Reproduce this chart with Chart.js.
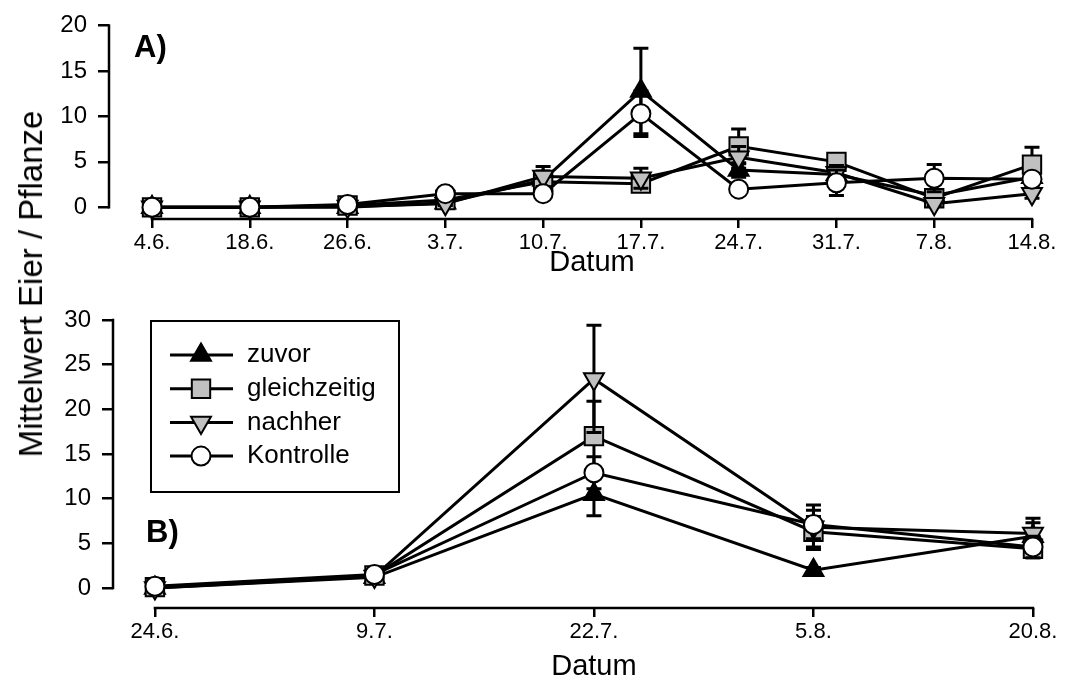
<!DOCTYPE html>
<html>
<head>
<meta charset="utf-8">
<title>Mittelwert Eier / Pflanze</title>
<script src="https://cdn.jsdelivr.net/npm/chart.js@4.4.1/dist/chart.umd.min.js"></script>
<style>
  html, body { margin: 0; padding: 0; background: #fff; }
  #wrap { position: relative; width: 1065px; height: 690px; overflow: hidden; }
  #cA { position: absolute; left: 0; top: 0; }
  #cB { position: absolute; left: 0; top: 290px; }
  #ytitle {
    position: absolute; left: 31px; top: 284px;
    transform: translate(-50%, -50%) rotate(-90deg);
    font: 33px "Liberation Sans", Arial, sans-serif;
    white-space: nowrap; color: #000;
  }
</style>
</head>
<body>
<div id="wrap">
  <canvas id="cA" width="1065" height="290"></canvas>
  <canvas id="cB" width="1065" height="400"></canvas>
  <div id="ytitle">Mittelwert Eier / Pflanze</div>
</div>
<script>
// ---- Panel A: sampling dates and series means / errors ----
const datesA = ['4.6.', '18.6.', '26.6.', '3.7.', '10.7.', '17.7.', '24.7.', '31.7.', '7.8.', '14.8.'];
const zuvorA        = [0, 0, 0,   0.5, 3.0, 12.8, 4.1, 3.6, 1.3, 3.3];
const zuvorErrA     = [0, 0, 0,   0.3, 1.0, 4.7,  0.8, 0.7, 0.5, 0.9];
const gleichA       = [0, 0, 0.2, 0.8, 2.8, 2.6,  6.7, 5.0, 1.0, 4.7];
const gleichErrA    = [0, 0, 0.1, 0.3, 0.9, 0.8,  1.9, 0.9, 0.5, 1.9];
const nachherA      = [0, 0, 0.1, 0.4, 3.4, 3.2,  5.5, 3.8, 0.4, 1.5];
const nachherErrA   = [0, 0, 0.1, 0.2, 1.1, 1.1,  1.2, 0.8, 0.3, 0.5];
const kontrolleA    = [0, 0, 0.3, 1.5, 1.5, 10.3, 2.0, 2.7, 3.2, 3.1];
const kontrolleErrA = [0, 0, 0.1, 0.2, 0.3, 2.5,  0.4, 1.4, 1.5, 0.6];
const yTicksA = [0, 5, 10, 15, 20];

// ---- Panel B ----
const datesB = ['24.6.', '9.7.', '22.7.', '5.8.', '20.8.'];
const zuvorB        = [0,   1.2, 10.5, 2.0, 5.8];
const zuvorErrB     = [0.1, 0.2, 2.4,  0.3, 1.5];
const gleichB       = [0.1, 1.4, 17.0, 6.3, 4.4];
const gleichErrB    = [0.1, 0.3, 3.9,  1.7, 1.0];
const nachherB      = [0,   1.3, 23.4, 6.8, 6.1];
const nachherErrB   = [0.1, 0.3, 6.0,  2.5, 1.7];
const kontrolleB    = [0.2, 1.5, 12.9, 7.1, 4.6];
const kontrolleErrB = [0.1, 0.3, 1.8,  1.6, 1.2];
const yTicksB = [0, 5, 10, 15, 20, 25, 30];

const seriesNames = ['zuvor', 'gleichzeitig', 'nachher', 'Kontrolle'];
const xTitle = 'Datum';

const FONT = '"Liberation Sans", Arial, sans-serif';

// marker look per treatment
const markerStyles = [
  { pointStyle: 'triangle', rotation: 0,   radius: 11.5, fill: '#000000', order: 3 },
  { pointStyle: 'rect',     rotation: 0,   radius: 13,   fill: '#c0c0c0', order: 2 },
  { pointStyle: 'triangle', rotation: 180, radius: 11.5, fill: '#c0c0c0', order: 1 },
  { pointStyle: 'circle',   rotation: 0,   radius: 9.5,  fill: '#ffffff', order: 0 }
];

function buildDatasets(valueLists, errorLists) {
  return valueLists.map((vals, s) => {
    const st = markerStyles[s];
    return {
      label: seriesNames[s],
      data: vals.map((v, i) => ({ x: i, y: v })),
      errors: errorLists[s],
      borderColor: '#000',
      borderWidth: 3,
      tension: 0,
      fill: false,
      clip: false,
      order: st.order,
      pointStyle: st.pointStyle,
      pointRotation: st.rotation,
      pointRadius: st.radius,
      pointHoverRadius: st.radius,
      pointBackgroundColor: st.fill,
      pointBorderColor: '#000',
      pointBorderWidth: 2
    };
  });
}

// vertical error bars with caps, drawn just beneath each series
const errorBars = {
  id: 'errorBars',
  beforeDatasetDraw(chart, args) {
    const ds = chart.data.datasets[args.index];
    if (!ds.errors) return;
    const ctx = chart.ctx, ys = chart.scales.y;
    ctx.save();
    ctx.strokeStyle = '#000';
    ctx.lineWidth = 3;
    args.meta.data.forEach((pt, i) => {
      const e = ds.errors[i];
      if (!e) return;
      const v = ds.data[i].y;
      const top = ys.getPixelForValue(v + e);
      const bot = ys.getPixelForValue(Math.max(v - e, 0));
      ctx.beginPath();
      ctx.moveTo(pt.x, top); ctx.lineTo(pt.x, bot);
      ctx.moveTo(pt.x - 7.5, top); ctx.lineTo(pt.x + 7.5, top);
      ctx.moveTo(pt.x - 7.5, bot); ctx.lineTo(pt.x + 7.5, bot);
      ctx.stroke();
    });
    ctx.restore();
  }
};

// detached axis lines: y from 0 to its top tick, x from first to last date,
// plus the x-axis title centred under the x-axis line
const axisLines = {
  id: 'axisLines',
  beforeDatasetsDraw(chart, args, o) {
    const { ctx, chartArea, scales } = chart;
    const xs = scales.x, ys = scales.y;
    const yt = ys.ticks, xt = xs.ticks;
    const x0 = xs.getPixelForValue(xt[0].value);
    const x1 = xs.getPixelForValue(xt[xt.length - 1].value);
    ctx.save();
    ctx.strokeStyle = '#000';
    ctx.lineWidth = 2.5;
    ctx.lineCap = 'square';
    ctx.beginPath();
    ctx.moveTo(chartArea.left, ys.getPixelForValue(yt[0].value));
    ctx.lineTo(chartArea.left, ys.getPixelForValue(yt[yt.length - 1].value));
    ctx.moveTo(x0, chartArea.bottom);
    ctx.lineTo(x1, chartArea.bottom);
    ctx.stroke();
    ctx.fillStyle = '#000';
    ctx.font = '29px ' + FONT;
    ctx.textAlign = 'center';
    ctx.textBaseline = 'middle';
    ctx.fillText(xTitle, (x0 + x1) / 2, chartArea.bottom + o.titleOffset);
    ctx.restore();
  }
};

// bold panel letter
const panelLabel = {
  id: 'panelLabel',
  afterDraw(chart, args, o) {
    if (!o.text) return;
    const ctx = chart.ctx;
    ctx.save();
    ctx.fillStyle = '#000';
    ctx.font = 'bold 31px ' + FONT;
    ctx.textAlign = 'left';
    ctx.textBaseline = 'middle';
    ctx.fillText(o.text, o.x, o.y);
    ctx.restore();
  }
};

// framed legend placed inside the plot
const boxLegend = {
  id: 'boxLegend',
  afterDraw(chart, args, o) {
    if (!o.show) return;
    const ctx = chart.ctx;
    ctx.save();
    ctx.strokeStyle = '#000';
    ctx.lineWidth = 2;
    ctx.strokeRect(o.x, o.y, o.w, o.h);
    chart.data.datasets.forEach((ds, i) => {
      const cy = o.y + o.firstRow + i * o.rowGap;
      ctx.strokeStyle = '#000';
      ctx.lineWidth = 3;
      ctx.beginPath();
      ctx.moveTo(o.x + o.lineX0, cy);
      ctx.lineTo(o.x + o.lineX1, cy);
      ctx.stroke();
      ctx.fillStyle = ds.pointBackgroundColor;
      ctx.lineWidth = ds.pointBorderWidth;
      Chart.helpers.drawPoint(ctx, {
        pointStyle: ds.pointStyle,
        rotation: ds.pointRotation,
        radius: ds.pointRadius,
        borderWidth: ds.pointBorderWidth
      }, o.x + o.markX, cy);
      ctx.fillStyle = '#000';
      ctx.font = '26px ' + FONT;
      ctx.textAlign = 'left';
      ctx.textBaseline = 'middle';
      ctx.fillText(ds.label, o.x + o.textX, cy);
    });
    ctx.restore();
  }
};

function makeChart(canvasId, cfg) {
  return new Chart(document.getElementById(canvasId), {
    type: 'line',
    data: { datasets: cfg.datasets },
    plugins: [axisLines, errorBars, panelLabel, boxLegend],
    options: {
      responsive: false,
      animation: false,
      events: [],
      layout: { autoPadding: false, padding: cfg.padding },
      scales: {
        x: {
          type: 'linear',
          min: cfg.xMin, max: cfg.xMax,
          afterBuildTicks: s => { s.ticks = cfg.dates.map((_, i) => ({ value: i })); },
          afterFit: s => { s.height = cfg.xHeight; },
          ticks: {
            callback: v => cfg.dates[v],
            autoSkip: false, maxRotation: 0, padding: 2,
            color: '#000', font: { size: 22, family: FONT }
          },
          grid: { display: true, drawOnChartArea: false, drawTicks: true, tickLength: 9, color: '#000', lineWidth: 2.5 },
          border: { display: false },
          title: { display: false }
        },
        y: {
          type: 'linear',
          min: cfg.yMin, max: cfg.yMax,
          afterBuildTicks: s => { s.ticks = cfg.yTicks.map(v => ({ value: v })); },
          afterFit: s => { s.width = 100; },
          ticks: { padding: 11, color: '#000', font: { size: 24, family: FONT } },
          grid: { display: true, drawOnChartArea: false, drawTicks: true, tickLength: 11, color: '#000', lineWidth: 2.5 },
          border: { display: false }
        }
      },
      plugins: {
        legend: { display: false },
        tooltip: { enabled: false },
        axisLines: { titleOffset: cfg.titleOffset },
        panelLabel: cfg.label,
        boxLegend: cfg.legend || { show: false }
      }
    }
  });
}

makeChart('cA', {
  datasets: buildDatasets([zuvorA, gleichA, nachherA, kontrolleA],
                          [zuvorErrA, gleichErrA, nachherErrA, kontrolleErrA]),
  dates: datesA, yTicks: yTicksA,
  xMin: -0.44, xMax: 9.082, yMin: -1.283, yMax: 20,
  padding: { left: 9, right: 25, top: 20, bottom: 0 },
  xHeight: 71, titleOffset: 44,
  label: { text: 'A)', x: 134, y: 48 }
});

makeChart('cB', {
  datasets: buildDatasets([zuvorB, gleichB, nachherB, kontrolleB],
                          [zuvorErrB, gleichErrB, nachherErrB, kontrolleErrB]),
  dates: datesB, yTicks: yTicksB,
  xMin: -0.191, xMax: 4.032, yMin: -2.239, yMax: 30,
  padding: { left: 13, right: 25, top: 30, bottom: 0 },
  xHeight: 82, titleOffset: 59,
  label: { text: 'B)', x: 146, y: 243 },
  legend: { show: true, x: 151, y: 31, w: 248, h: 171, firstRow: 34, rowGap: 33.7,
            lineX0: 19, lineX1: 82, markX: 50, textX: 96 }
});
</script>
</body>
</html>
